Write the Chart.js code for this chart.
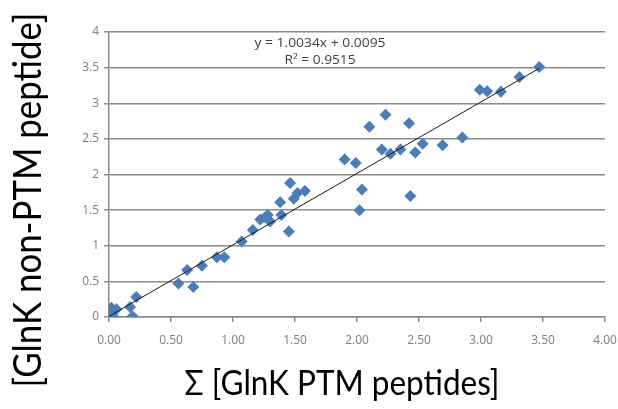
<!DOCTYPE html>
<html>
<head>
<meta charset="utf-8">
<script src="https://cdn.jsdelivr.net/npm/chart.js@4/dist/chart.umd.min.js"></script>
<style>
  body { margin: 0; background: #fff; }
  #wrap { width: 618px; height: 409px; }
</style>
</head>
<body>
<div id="wrap"><canvas id="grafico" width="618" height="409"></canvas></div>
<script>
// --- DATOS ---
const ptmX = [0.00, 0.02, 0.03, 0.06, 0.01, 0.17, 0.19, 0.22, 0.56, 0.63, 0.68, 0.75, 0.87, 0.93,
  1.07, 1.16, 1.22, 1.26, 1.28, 1.30, 1.38, 1.39, 1.45, 1.46, 1.49, 1.52, 1.58,
  1.90, 1.99, 2.02, 2.04, 2.10, 2.20, 2.23, 2.27, 2.35, 2.42, 2.43, 2.47, 2.53, 2.69, 2.85,
  2.99, 3.05, 3.16, 3.31, 3.47];
const nonPtmY = [0.10, 0.13, 0.02, 0.11, 0.05, 0.14, 0.01, 0.28, 0.47, 0.66, 0.42, 0.72, 0.84, 0.84,
  1.06, 1.22, 1.37, 1.40, 1.43, 1.34, 1.61, 1.43, 1.20, 1.88, 1.66, 1.74, 1.77,
  2.21, 2.16, 1.50, 1.79, 2.67, 2.35, 2.84, 2.29, 2.35, 2.72, 1.70, 2.31, 2.43, 2.41, 2.52,
  3.19, 3.17, 3.16, 3.37, 3.51];
// linea de tendencia (extremos)
const trendX = [0, 3.47];
const trendY = [0.01, 3.49];
const xTicks = [0, 0.5, 1, 1.5, 2, 2.5, 3, 3.5, 4];
const yTicks = [0, 0.5, 1, 1.5, 2, 2.5, 3, 3.5, 4];
const ecuacion = ['y = 1.0034x + 0.0095', 'R\u00b2 = 0.9515'];
const tituloX = '\u03a3 [GlnK PTM peptides]';
const tituloY = '[GlnK non-PTM peptide]';

const puntos = ptmX.map((x, i) => ({ x: x, y: nonPtmY[i] }));
const tendencia = trendX.map((x, i) => ({ x: x, y: trendY[i] }));

const gris = '#8c8c8c';

// textos estirados para igualar el ancho del original
const textoAjustado = (ctx, texto, cx, cy, ancho, rot) => {
  ctx.save();
  ctx.translate(cx, cy);
  if (rot) ctx.rotate(rot);
  const w = ctx.measureText(texto).width;
  ctx.scale(ancho / w, 1);
  ctx.fillText(texto, 0, 0);
  ctx.restore();
};

const titulos = {
  id: 'titulos',
  afterDraw(chart) {
    const ctx = chart.ctx;
    ctx.save();
    ctx.textAlign = 'center';
    ctx.textBaseline = 'middle';
    ctx.fillStyle = '#000';
    ctx.font = '34px Lato';
    textoAjustado(ctx, tituloX, 342, 384, 315, 0);
    ctx.font = '38px Lato';
    textoAjustado(ctx, tituloY, 29, 200, 375, -Math.PI / 2);
    ctx.font = '12px "Open Sans"';
    ctx.fillStyle = '#404040';
    textoAjustado(ctx, ecuacion[0], 320, 44, 131, 0);
    textoAjustado(ctx, ecuacion[1], 320, 61, 71, 0);
    ctx.restore();
  }
};

new Chart(document.getElementById('grafico').getContext('2d'), {
  type: 'scatter',
  data: {
    datasets: [{
      label: 'datos',
      data: puntos,
      pointStyle: 'rectRot',
      pointRadius: 6,
      pointBackgroundColor: '#4a7ebb',
      pointBorderWidth: 0,
      order: 1
    }, {
      type: 'line',
      label: 'tendencia',
      data: tendencia,
      borderColor: '#1a1a1a',
      borderWidth: 1,
      pointRadius: 0,
      fill: false,
      order: 0
    }]
  },
  options: {
    responsive: false,
    animation: false,
    layout: { padding: { top: 32, right: 13, left: 0, bottom: 0 } },
    plugins: { legend: { display: false }, tooltip: { enabled: false } },
    scales: {
      x: {
        type: 'linear',
        min: 0,
        max: 4,
        afterBuildTicks: s => { s.ticks = xTicks.map(v => ({ value: v })); },
        afterFit: s => { s.height = 92; s.paddingLeft = 0; s.paddingRight = 0; },
        ticks: {
          callback: v => Number(v).toFixed(2),
          color: '#7f7f7f',
          font: { family: '"Open Sans"', size: 12 },
          padding: 11,
          maxRotation: 0
        },
        grid: { drawOnChartArea: false, drawTicks: true, tickLength: 5, color: gris, lineWidth: 1.5 },
        border: { color: gris, width: 1.5 }
      },
      y: {
        min: 0,
        max: 4,
        afterBuildTicks: s => { s.ticks = yTicks.map(v => ({ value: v })); },
        afterFit: s => { s.width = 109; s.paddingTop = 0; s.paddingBottom = 0; },
        ticks: {
          callback: v => String(v),
          color: '#7f7f7f',
          font: { family: '"Open Sans"', size: 12 },
          padding: 5
        },
        grid: { color: gris, lineWidth: 1.5, tickLength: 5 },
        border: { color: gris, width: 1.5 }
      }
    }
  },
  plugins: [titulos]
});
</script>
</body>
</html>
